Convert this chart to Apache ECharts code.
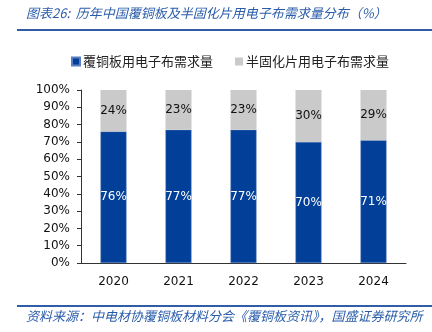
<!DOCTYPE html>
<html><head><meta charset="utf-8">
<script src="https://cdn.jsdelivr.net/npm/echarts@6/dist/echarts.min.js"></script>
<style>html,body{margin:0;padding:0;background:#fff}#c{width:432px;height:332px}</style>
</head><body><div id="c"></div>
<script>
const categories = ['2020','2021','2022','2023','2024'];
const ccl = [76, 77, 77, 70, 71];
const prepreg = [24, 23, 23, 30, 29];
const seriesNames = ['覆铜板用电子布需求量','半固化片用电子布需求量'];
const titleText = '图表26:  历年中国覆铜板及半固化片用电子布需求量分布（%）';
const sourceText = '资料来源：中电材协覆铜板材料分会《覆铜板资讯》，国盛证券研究所';

const chart = echarts.init(document.getElementById('c'));
const baseFont = 'DejaVu Sans, "Noto Sans CJK SC", sans-serif';
chart.setOption({
  animation: false,
  textStyle: {fontFamily: baseFont},
  graphic: [
    {type:'text', left: 26, top: 7, style:{text: titleText, fill:'#2A5CAA', font:'italic 13px "Noto Sans CJK SC", sans-serif'}},
    {type:'rect', shape:{x:17, y:29, width:415, height:2}, style:{fill:'#2F5DA8'}},
    {type:'rect', shape:{x:17, y:305, width:415, height:2}, style:{fill:'#2F5DA8'}},
    {type:'text', left: 26, top: 310, style:{text: sourceText, fill:'#2A5CAA', font:'italic 13px "Noto Sans CJK SC", sans-serif'}}
  ],
  legend: {
    top: 50, left: 66, itemWidth: 8, itemHeight: 8, itemGap: 22,
    icon: 'rect',
    textStyle: {fontSize: 13, color:'#222', fontFamily: '"Noto Sans CJK SC", sans-serif', padding:[0,0,0,-2]},
    data: seriesNames
  },
  grid: {left: 81, top: 90, right: 26, bottom: 69, containLabel: false},
  xAxis: {
    type: 'category', data: categories,
    axisLine: {lineStyle:{color:'#333'}},
    axisTick: {inside: true, length: 4, lineStyle:{color:'#333'}},
    axisLabel: {color:'#111', fontSize: 12, margin: 13}
  },
  yAxis: {
    type: 'value', min: 0, max: 100, interval: 10,
    axisLine: {show: true, lineStyle:{color:'#333'}},
    axisTick: {show: true, length: 4, lineStyle:{color:'#333'}},
    splitLine: {show: false},
    axisLabel: {color:'#111', fontSize: 12, margin: 11, formatter: '{value}%'}
  },
  series: [
    {name: seriesNames[0], type:'bar', stack:'a', data: ccl, barWidth: 26,
     itemStyle:{color:'#013F98', borderColor:'#5A7FC0', borderWidth:0.5},
     label:{show:true, position:'inside', color:'#fff', fontSize:12, formatter:'{c}%'}},
    {name: seriesNames[1], type:'bar', stack:'a', data: prepreg, barWidth: 26,
     itemStyle:{color:'#CACACA'},
     label:{show:true, position:'inside', color:'#111', fontSize:12, formatter:'{c}%'}}
  ]
});
</script></body></html>
